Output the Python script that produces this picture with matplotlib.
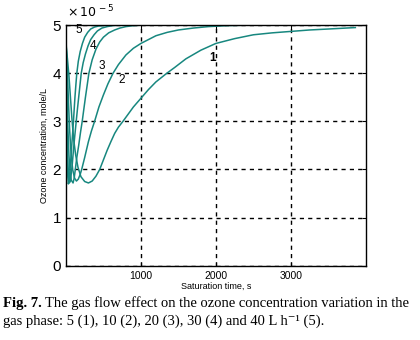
import numpy as np
import matplotlib
matplotlib.use("Agg")
from matplotlib import pyplot as plt

# Données (temps en s, concentration en 1e-5 mole/L)
t1 = [0, 20, 40, 60, 80, 105, 130, 160, 200, 250, 300, 350, 400, 450, 500, 550, 600, 650, 700, 760,
      830, 900, 1000, 1100, 1200, 1345, 1450, 1600, 1800, 2000, 2250, 2500, 2750, 3000, 3250, 3500, 3860]
c1 = [4.6, 4.3, 3.95, 3.5, 3.05, 2.6, 2.3, 2.05, 1.85, 1.75, 1.72, 1.76, 1.86, 2.0, 2.2, 2.4, 2.58, 2.75, 2.88, 3.0,
      3.15, 3.3, 3.48, 3.66, 3.82, 4.0, 4.12, 4.3, 4.48, 4.62, 4.72, 4.8, 4.84, 4.87, 4.9, 4.92, 4.95]

t2 = [0, 10, 20, 35, 50, 70, 90, 115, 140, 165, 190, 210, 250, 300, 340, 382, 440, 500, 560, 628,
      700, 800, 900, 1000, 1100, 1200, 1350, 1500, 1700, 1900, 2150, 2400]
c2 = [4.7, 4.4, 4.0, 3.35, 2.8, 2.3, 2.0, 1.82, 1.76, 1.8, 1.9, 2.0, 2.25, 2.58, 2.8, 3.0, 3.3, 3.55, 3.78, 4.0,
      4.18, 4.38, 4.52, 4.62, 4.7, 4.78, 4.85, 4.9, 4.94, 4.97, 4.99, 5.0]

t3 = [0, 8, 15, 25, 40, 55, 70, 95, 110, 125, 145, 170, 195, 217, 240, 260, 285, 306, 350, 400,
      450, 500, 570, 650, 720, 800, 900, 1000, 1700, 2400]
c3 = [4.7, 4.1, 3.5, 2.9, 2.3, 1.95, 1.78, 1.72, 1.82, 2.0, 2.25, 2.5, 2.78, 3.0, 3.27, 3.5, 3.77, 4.0, 4.28, 4.5,
      4.65, 4.75, 4.84, 4.9, 4.94, 4.97, 4.99, 5.0, 5.0, 5.0]

t4 = [0, 5, 10, 17, 25, 35, 45, 57, 70, 85, 100, 118, 137, 155, 170, 187, 204, 230, 260, 295,
      330, 375, 420, 480, 550, 620, 700, 1500, 2400]
c4 = [4.8, 4.2, 3.5, 2.8, 2.2, 1.85, 1.72, 1.75, 1.9, 2.12, 2.4, 2.7, 3.0, 3.28, 3.5, 3.75, 4.0, 4.22, 4.4, 4.57,
      4.7, 4.8, 4.88, 4.94, 4.97, 4.99, 5.0, 5.0, 5.0]

t5 = [0, 4, 8, 13, 18, 25, 32, 40, 50, 62, 75, 88, 100, 110, 120, 132, 145, 165, 190, 220,
      250, 290, 330, 380, 430, 490, 550, 1500, 2400]
c5 = [4.8, 4.2, 3.5, 2.8, 2.2, 1.85, 1.7, 1.75, 1.9, 2.15, 2.45, 2.73, 3.0, 3.25, 3.5, 3.75, 4.0, 4.25, 4.45, 4.62,
      4.75, 4.85, 4.92, 4.96, 4.98, 4.99, 5.0, 5.0, 5.0]

series = [(t1, c1), (t2, c2), (t3, c3), (t4, c4), (t5, c5)]

# Étiquettes des courbes (numéro, t, c)
etiquettes = [("1", 1950, 4.32), ("2", 741, 3.87), ("3", 477, 4.15), ("4", 356, 4.56), ("5", 168, 4.89)]

couleur = "#17877f"

plt.rcParams['font.family'] = ['Liberation Sans', 'DejaVu Sans']

fig = plt.figure(figsize=(4.2, 3.4), dpi=100)
ax = fig.add_axes([0.157, 0.2185, 0.714, 0.7075])

for t, c in series:
    ax.plot(np.array(t), np.array(c) * 1e-5, color=couleur, lw=1.1, solid_joinstyle="round")

for lab, t, c in etiquettes:
    ax.text(t, c * 1e-5, lab, fontsize=8.5, ha="center", va="center",
            fontweight="bold" if lab == "1" else "normal")

ax.set_xlim(0, 4000)
ax.set_ylim(0, 5e-5)
ax.set_xticks([1000, 2000, 3000])
ax.set_yticks(np.arange(0, 6) * 1e-5)
ax.set_yticklabels([str(i) for i in range(6)], fontsize=11)
ax.tick_params(axis="x", labelsize=7.5)
ax.tick_params(direction="in", top=True, right=True, length=3)
ax.grid(True, color="black", linestyle=(0, (3, 3)), lw=1.0)
for s in ax.spines.values():
    s.set_linewidth(1.0)

ax.set_xlabel("Saturation time, s", fontsize=6.5, labelpad=1)
ax.set_ylabel("Ozone concentration, mole/L", fontsize=6.5, labelpad=3)

fig.text(0.16, 0.94, r"$\times\,10^{\,-5}$", fontsize=9, ha="left", va="bottom")

# Légende de la figure (texte en dessous)
fam = ['Liberation Serif', 'DejaVu Serif']
taille = 10.5
t_gras = fig.text(0.006, 0.088, "Fig. 7.", fontsize=taille, fontweight="bold", family=fam, va="bottom")
fig.canvas.draw()
bb = t_gras.get_window_extent()
x_suite = (bb.x1 + 4) / fig.bbox.width
fig.text(x_suite, 0.088, "The gas flow effect on the ozone concentration variation in the",
         fontsize=taille, family=fam, va="bottom")
fig.text(0.006, 0.036, "gas phase: 5 (1), 10 (2), 20 (3), 30 (4) and 40 L h\u207b\u00b9 (5).",
         fontsize=taille, family=fam, va="bottom")

fig.savefig("out.png", dpi=100)
